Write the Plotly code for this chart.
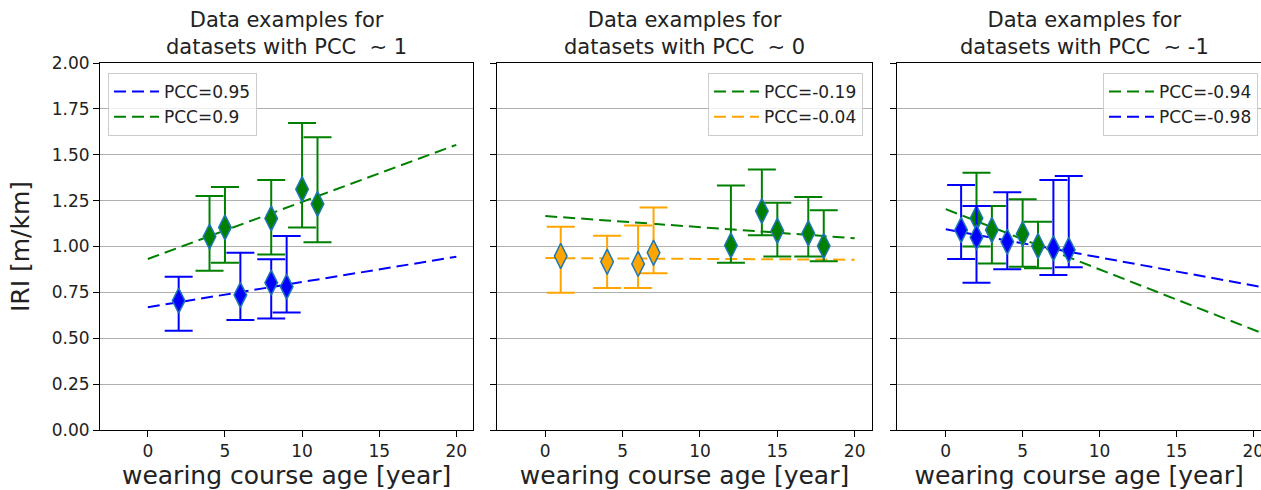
import plotly.graph_objects as go

# ---- panel 1: datasets with PCC ~ 1 ----
p1_blue_age = [2, 6, 8, 9]
p1_blue_iri = [0.705, 0.736, 0.803, 0.781]
p1_blue_hi = [0.835, 0.966, 0.930, 1.057]
p1_blue_lo = [0.541, 0.599, 0.607, 0.641]

p1_green_age = [4, 5, 8, 10, 11]
p1_green_iri = [1.054, 1.104, 1.153, 1.312, 1.232]
p1_green_hi = [1.275, 1.324, 1.362, 1.673, 1.595]
p1_green_lo = [0.868, 0.912, 0.957, 1.103, 1.023]

p1_fit_age = [0, 20]
p1_blue_fit = [0.669, 0.944]
p1_green_fit = [0.932, 1.554]

# ---- panel 2: datasets with PCC ~ 0 ----
p2_green_age = [12, 14, 15, 17, 18]
p2_green_iri = [1.006, 1.193, 1.086, 1.072, 1.003]
p2_green_hi = [1.332, 1.419, 1.239, 1.270, 1.197]
p2_green_lo = [0.912, 1.061, 0.945, 0.945, 0.919]

p2_orange_age = [1, 4, 6, 7]
p2_orange_iri = [0.948, 0.917, 0.905, 0.966]
p2_orange_hi = [1.108, 1.059, 1.115, 1.213]
p2_orange_lo = [0.748, 0.774, 0.774, 0.854]

p2_fit_age = [0, 20]
p2_green_fit = [1.166, 1.045]
p2_orange_fit = [0.937, 0.928]

# ---- panel 3: datasets with PCC ~ -1 ----
p3_green_age = [2, 3, 5, 6]
p3_green_iri = [1.154, 1.090, 1.068, 1.003]
p3_green_hi = [1.402, 1.221, 1.257, 1.135]
p3_green_lo = [1.000, 0.908, 0.890, 0.881]

p3_blue_age = [1, 2, 4, 7, 8]
p3_blue_iri = [1.090, 1.050, 1.026, 0.990, 0.981]
p3_blue_hi = [1.335, 1.221, 1.295, 1.362, 1.384]
p3_blue_lo = [0.932, 0.803, 0.876, 0.845, 0.887]

p3_fit_age = [0, 21]
p3_green_fit = [1.204, 0.514]
p3_blue_fit = [1.094, 0.772]

titles = [
    "Data examples for<br>datasets with PCC \u00a0\u223c 1",
    "Data examples for<br>datasets with PCC \u00a0\u223c 0",
    "Data examples for<br>datasets with PCC \u00a0\u223c -1",
]
y_ticks = [0.0, 0.25, 0.5, 0.75, 1.0, 1.25, 1.5, 1.75, 2.0]
x_ticks = [0, 5, 10, 15, 20]

BLUE = "#0000ff"
GREEN = "#008000"
ORANGE = "#ffa500"
EDGE = "#1f77b4"
FONT = "DejaVu Sans"
TXT = "#222222"

W, H = 1261, 490
fig = go.Figure()


def fit_line(ax, legend, age, vals, color, name):
    fig.add_trace(go.Scatter(
        x=age, y=vals, mode="lines", name=name,
        line=dict(color=color, width=2, dash="12px,6px"),
        xaxis="x" + ax, yaxis="y" + ax, legend=legend, showlegend=True,
    ))


def points(ax, age, iri, hi, lo, color):
    fig.add_trace(go.Scatter(
        x=age, y=iri, mode="markers", showlegend=False,
        marker=dict(symbol="diamond-tall", size=18, color=color,
                    line=dict(color=EDGE, width=1.5)),
        error_y=dict(type="data", symmetric=False,
                     array=[h - v for h, v in zip(hi, iri)],
                     arrayminus=[v - l for v, l in zip(iri, lo)],
                     color=color, thickness=2, width=14),
        xaxis="x" + ax, yaxis="y" + ax,
    ))


# panel 1
fit_line("", "legend", p1_fit_age, p1_blue_fit, BLUE, "PCC=0.95")
fit_line("", "legend", p1_fit_age, p1_green_fit, GREEN, "PCC=0.9")
points("", p1_blue_age, p1_blue_iri, p1_blue_hi, p1_blue_lo, BLUE)
points("", p1_green_age, p1_green_iri, p1_green_hi, p1_green_lo, GREEN)

# panel 2
fit_line("2", "legend2", p2_fit_age, p2_green_fit, GREEN, "PCC=-0.19")
fit_line("2", "legend2", p2_fit_age, p2_orange_fit, ORANGE, "PCC=-0.04")
points("2", p2_green_age, p2_green_iri, p2_green_hi, p2_green_lo, GREEN)
points("2", p2_orange_age, p2_orange_iri, p2_orange_hi, p2_orange_lo, ORANGE)

# panel 3
fit_line("3", "legend3", p3_fit_age, p3_green_fit, GREEN, "PCC=-0.94")
fit_line("3", "legend3", p3_fit_age, p3_blue_fit, BLUE, "PCC=-0.98")
points("3", p3_green_age, p3_green_iri, p3_green_hi, p3_green_lo, GREEN)
points("3", p3_blue_age, p3_blue_iri, p3_blue_hi, p3_blue_lo, BLUE)

domains = [[100 / W, 473.3 / W], [497.3 / W, 871.7 / W], [897.3 / W, 1.0]]
x_ranges = [[-3.1, 21.1], [-3.1, 21.1], [-3.15, 20.5]]

tick_font = dict(family=FONT, size=17, color=TXT)
axis_title_font = dict(family=FONT, size=25, color=TXT)

layout = dict(
    width=W, height=H,
    margin=dict(l=0, r=0, t=63, b=60),
    paper_bgcolor="white", plot_bgcolor="white",
    font=dict(family=FONT, color=TXT),
)

for i, (dom, xr) in enumerate(zip(domains, x_ranges)):
    suffix = "" if i == 0 else str(i + 1)
    layout["xaxis" + suffix] = dict(
        domain=dom, range=xr, anchor="y" + suffix,
        tickvals=x_ticks, ticks="outside", ticklen=6, tickwidth=1,
        tickcolor="black", showline=True, linecolor="black", linewidth=1,
        mirror=True, showgrid=False, zeroline=False, tickfont=tick_font,
        ticklabeloverflow="allow",
        title=dict(text="wearing course age [year]", font=axis_title_font,
                   standoff=9),
        automargin=False,
    )
    layout["yaxis" + suffix] = dict(
        domain=[0, 1], range=[0, 2], anchor="x" + suffix,
        tickvals=y_ticks, tickformat=".2f", ticks="outside", ticklen=6,
        tickwidth=1, tickcolor="black", showline=True, linecolor="black",
        linewidth=1, mirror=(i < 2), showgrid=True, gridcolor="#b0b0b0",
        gridwidth=1, zeroline=False, tickfont=tick_font,
        showticklabels=(i == 0), automargin=False,
    )

layout["yaxis"]["title"] = dict(text="IRI [m/km]", font=axis_title_font,
                                standoff=14)

legend_style = dict(
    font=dict(family=FONT, size=17, color=TXT),
    bgcolor="rgba(255,255,255,0.8)", bordercolor="#cccccc", borderwidth=1,
    yanchor="top", y=(430 - 73) / 367, itemwidth=45,
)
layout["legend"] = dict(legend_style, x=108 / W, xanchor="left")
layout["legend2"] = dict(legend_style, x=863 / W, xanchor="right")
layout["legend3"] = dict(legend_style, x=1258 / W, xanchor="right")

layout["annotations"] = [
    dict(text=t, x=(d[0] + d[1]) / 2 if k < 2 else (897.3 + 1271) / 2 / W,
         y=1, xref="paper", yref="paper", xanchor="center", yanchor="bottom",
         yshift=2, showarrow=False,
         font=dict(family=FONT, size=21, color=TXT))
    for k, (t, d) in enumerate(zip(titles, domains))
]

fig.update_layout(**layout)
fig.write_html("out.html")
